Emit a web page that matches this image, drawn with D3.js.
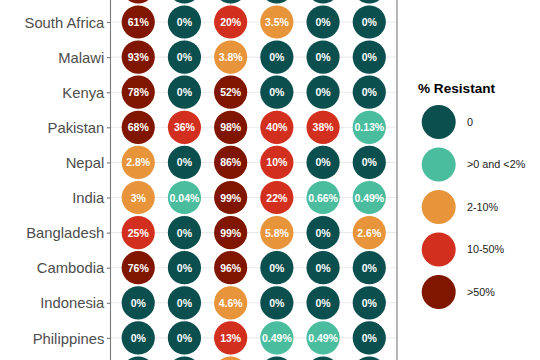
<!DOCTYPE html>
<html>
<head>
<meta charset="utf-8">
<script src="https://cdn.jsdelivr.net/npm/d3@7"></script>
<style>
html,body{margin:0;padding:0;background:#fff;}
svg{display:block;}
</style>
</head>
<body>
<svg id="chart" width="540" height="360"></svg>
<script>
// ---- data ----
const countries = ["Zimbabwe","South Africa","Malawi","Kenya","Pakistan","Nepal","India","Bangladesh","Cambodia","Indonesia","Philippines","Fiji"];
const drugs = ["Ampicillin","Chloramphenicol","Ciprofloxacin","Ceftriaxone","Azithromycin","Carbapenem"];
const zimbabwe    = [80, 0, 0, 0, 0, 0];
const southAfrica = [61, 0, 20, 3.5, 0, 0];
const malawi      = [93, 0, 3.8, 0, 0, 0];
const kenya       = [78, 0, 52, 0, 0, 0];
const pakistan    = [68, 36, 98, 40, 38, 0.13];
const nepal       = [2.8, 0, 86, 10, 0, 0];
const india       = [3, 0.04, 99, 22, 0.66, 0.49];
const bangladesh  = [25, 0, 99, 5.8, 0, 2.6];
const cambodia    = [76, 0, 96, 0, 0, 0];
const indonesia   = [0, 0, 4.6, 0, 0, 0];
const philippines = [0, 0, 13, 0.49, 0.49, 0];
const fiji        = [0, 0, 5, 0, 0, 0];
const seriesValues = [zimbabwe, southAfrica, malawi, kenya, pakistan, nepal, india, bangladesh, cambodia, indonesia, philippines, fiji];
const legendLabels = ["0", ">0 and <2%", "2-10%", "10-50%", ">50%"];
const legendTitle = "% Resistant";

// ---- styling ----
const binColors = ["#0b4f4f", "#4bbd9f", "#e8943a", "#d32f1e", "#801500"];
function bin(v){
  if (v === 0) return 0;
  if (v < 2) return 1;
  if (v < 10) return 2;
  if (v <= 50) return 3;
  return 4;
}

const cells = [];
countries.forEach((c, i) => drugs.forEach((d, j) => cells.push({country: c, drug: d, value: seriesValues[i][j]})));

const W = 540, H = 360;
const svg = d3.select("#chart");
const panelLeft = 110.5, panelRight = 397;
const x = d3.scalePoint().domain(drugs).range([panelLeft, panelRight]).padding(0.6);
const y = d3.scalePoint().domain(countries).range([-13.1, 373.0]);
const r = 16.6;
const inView = c => y(c) > 0 && y(c) < H;

// grid
svg.append("g").selectAll("line").data(countries).join("line")
  .attr("x1", panelLeft).attr("x2", panelRight)
  .attr("y1", d => y(d)).attr("y2", d => y(d))
  .attr("stroke", "#ebebeb").attr("stroke-width", 1.1);
svg.append("g").selectAll("line").data(drugs).join("line")
  .attr("x1", d => x(d)).attr("x2", d => x(d))
  .attr("y1", -40).attr("y2", 400)
  .attr("stroke", "#ebebeb").attr("stroke-width", 1.1);

// circles
svg.append("g").selectAll("circle").data(cells).join("circle")
  .attr("cx", d => x(d.drug)).attr("cy", d => y(d.country)).attr("r", r)
  .attr("fill", d => binColors[bin(d.value)]);

// values (rows whose centre lies outside the window are cropped away, as in the reference)
svg.append("g").selectAll("text").data(cells.filter(d => inView(d.country))).join("text")
  .attr("x", d => x(d.drug)).attr("y", d => y(d.country))
  .attr("text-anchor", "middle").attr("dominant-baseline", "central")
  .attr("font-family", "Liberation Sans, Arial, sans-serif")
  .attr("font-weight", "bold").attr("font-size", "10.5px")
  .attr("fill", "#ffffff")
  .text(d => d.value + "%");

// panel border
svg.append("line").attr("x1", panelLeft).attr("x2", panelLeft).attr("y1", -20).attr("y2", 380)
  .attr("stroke", "#7a7a7a").attr("stroke-width", 1.1);
svg.append("line").attr("x1", panelRight).attr("x2", panelRight).attr("y1", -20).attr("y2", 380)
  .attr("stroke", "#7a7a7a").attr("stroke-width", 1.1);

// y axis
const yAxis = d3.axisLeft(y).tickSize(3.7).tickPadding(2.5);
const gy = svg.append("g").attr("transform", `translate(${panelLeft},0)`).call(yAxis);
gy.select(".domain").remove();
gy.selectAll(".tick line").attr("stroke", "#7a7a7a").attr("stroke-width", 1.1);
gy.selectAll(".tick text")
  .attr("font-family", "Liberation Sans, Arial, sans-serif")
  .attr("font-size", "14.8px").attr("fill", "#4d4d4d")
  .attr("dy", "0.35em");
gy.selectAll(".tick").filter(d => !inView(d)).select("text").remove();

// legend
const lg = svg.append("g");
lg.append("text").attr("x", 418).attr("y", 93)
  .attr("font-family", "Liberation Sans, Arial, sans-serif")
  .attr("font-weight", "bold").attr("font-size", "13.6px").attr("fill", "#000")
  .text(legendTitle);
const ly = d3.scalePoint().domain(legendLabels).range([122, 292]);
lg.selectAll("circle").data(legendLabels).join("circle")
  .attr("cx", 438.7).attr("cy", d => ly(d)).attr("r", 17)
  .attr("fill", (d, i) => binColors[i]);
lg.selectAll("text.lab").data(legendLabels).join("text").attr("class", "lab")
  .attr("x", 467).attr("y", d => ly(d)).attr("dy", "0.35em")
  .attr("font-family", "Liberation Sans, Arial, sans-serif")
  .attr("font-size", "10.8px").attr("fill", "#1a1a1a")
  .text(d => d);
</script>
</body>
</html>
